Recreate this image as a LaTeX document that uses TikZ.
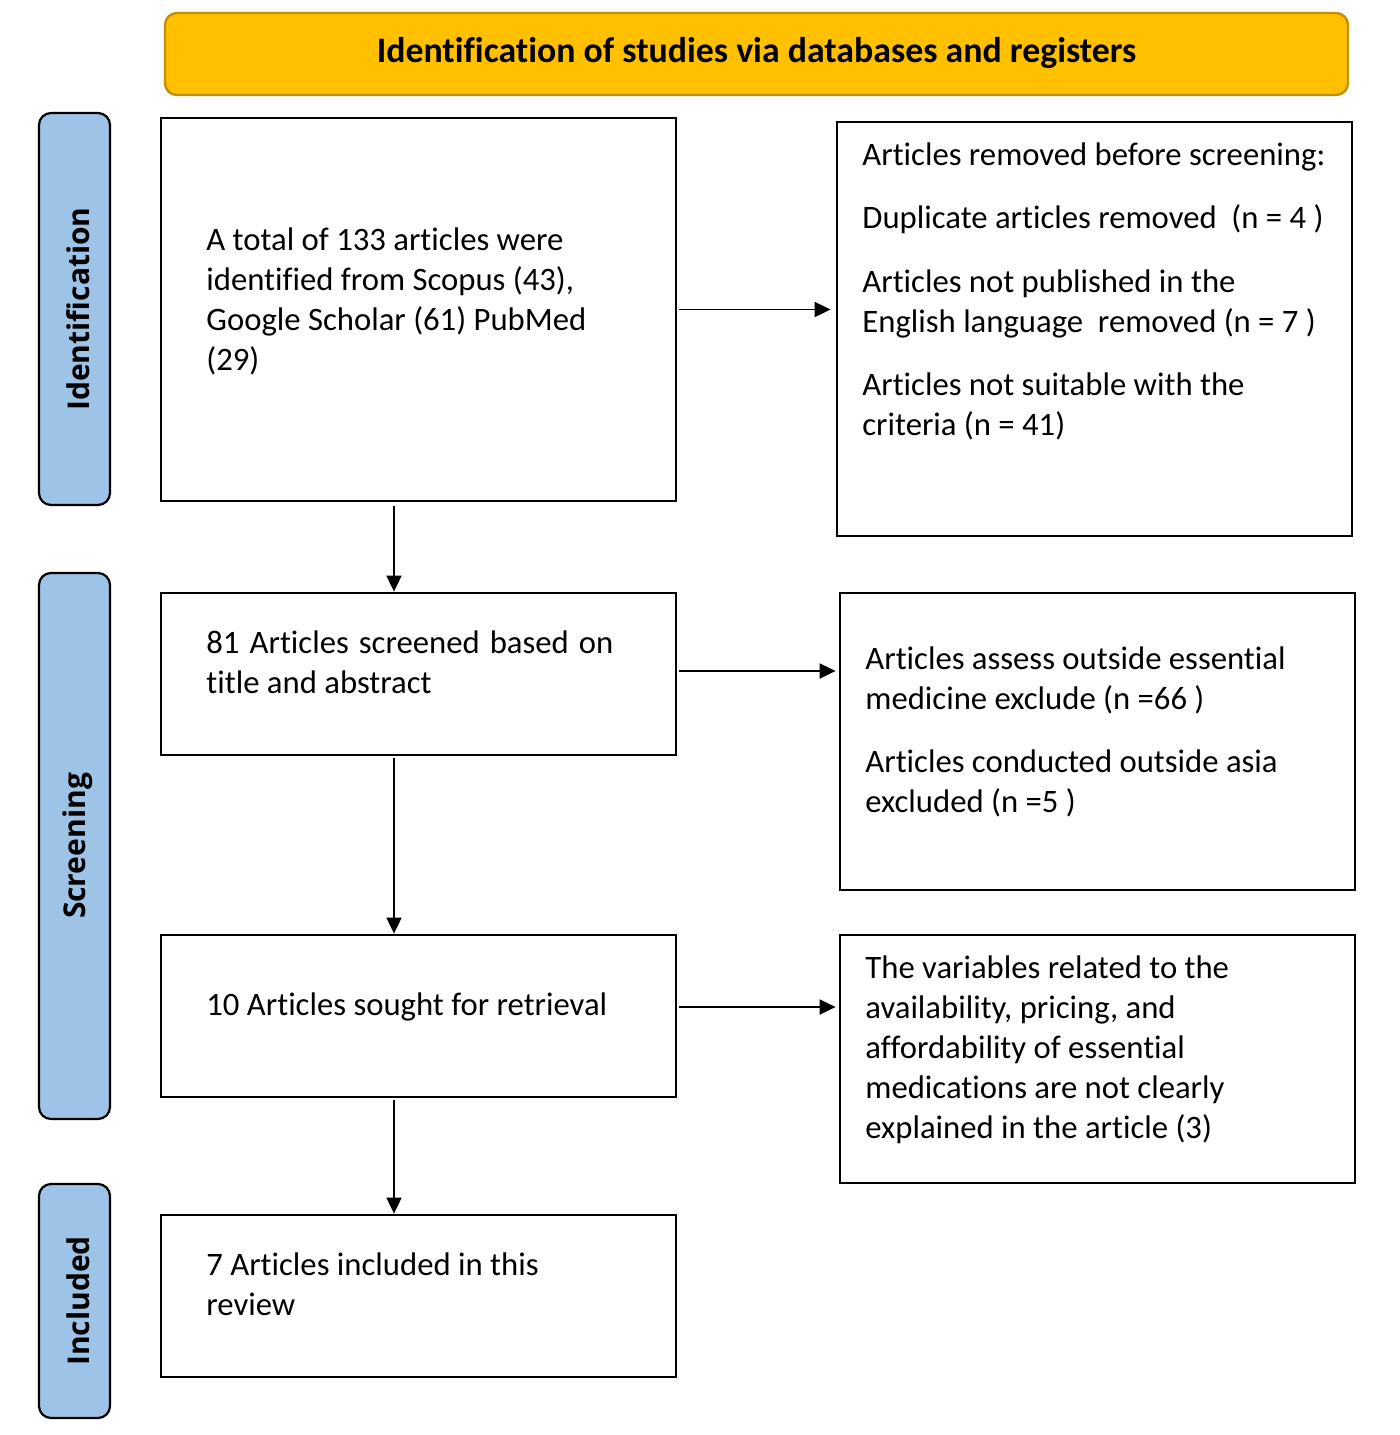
\documentclass[tikz,border=0pt]{standalone}
\usepackage{fontspec}
\setmainfont[RawFeature={-liga;-clig;-calt;-dlig}]{Carlito}
\newfontfamily\sidefont{Open Sans}
\usetikzlibrary{arrows.meta}
\definecolor{gold}{HTML}{FFC000}
\definecolor{golddark}{HTML}{BF9000}
\definecolor{sideblue}{HTML}{9DC3E6}
\begin{document}
\begin{tikzpicture}[x=0.5pt,y=-0.5pt,
  box/.style={draw=black, line width=1.4pt, rectangle, inner sep=0pt, minimum width=257.5pt},
  side/.style={draw=black, line width=1.1pt, fill=sideblue, rounded corners=6pt, inner sep=0pt, minimum width=35.5pt},
  sidelabel/.style={rotate=90, font=\sidefont\bfseries\fontsize{15}{18}\selectfont, inner sep=0pt},
  txt/.style={anchor=base west, inner sep=0pt, font=\fontsize{16.35}{20}\selectfont},
  arr/.style={line width=0.9pt, -{Triangle[length=8pt,width=7.5pt]}}
]
\useasboundingbox (0,0) rectangle (1400,1435);
% title
\node[draw=golddark, line width=1.2pt, fill=gold, rounded corners=6pt, minimum width=591.5pt, minimum height=41pt, inner sep=0pt] (title) at (756.5,54) {};
\node[inner sep=0pt, font=\bfseries\fontsize{17.9}{21}\selectfont] (titletxt) at (756.5,53) {Identification of studies via databases and registers};
% side bars
\node[side, minimum height=196pt] (s1) at (74.5,309) {};
\node[side, minimum height=273pt] (s2) at (74.5,846) {};
\node[side, minimum height=117pt] (s3) at (74.5,1301) {};
\node[sidelabel] (l1) at (78,309) {Identification};
\node[sidelabel] (l2) at (78,846) {Screening};
\node[sidelabel] (l3) at (78,1301) {Included};
% boxes
\node[box, minimum height=191.5pt] (b1) at (418.5,309.5) {};
\node[box, minimum height=207pt] (r1) at (1094.5,329) {};
\node[box, minimum height=81pt] (b2) at (418.5,674) {};
\node[box, minimum height=148.5pt] (r2) at (1097.5,741.5) {};
\node[box, minimum height=81pt] (b3) at (418.5,1016) {};
\node[box, minimum height=124pt] (r3) at (1097.5,1059) {};
\node[box, minimum height=81pt] (b4) at (418.5,1296) {};
% texts
\node[txt] (t1) at (206,250) {\parbox[t]{240pt}{\raggedright A total of 133 articles were\\identified from Scopus (43),\\Google Scholar (61) PubMed\\(29)}};
\node[txt] (tr1) at (862,165) {\parbox[t]{250pt}{\raggedright Articles removed before screening:\\[11.75pt]Duplicate articles removed\ \ (n = 4 )\\[11.75pt]Articles not published in the\\English language\ \ removed (n = 7 )\\[11.75pt]Articles not suitable with the\\criteria (n = 41)}};
\node[txt] (t2) at (206,653) {\parbox[t]{203.5pt}{81 Articles screened based on\linebreak title and abstract}};
\node[txt] (tr2) at (865,669) {\parbox[t]{250pt}{\raggedright Articles assess outside essential\\medicine exclude (n =66 )\\[11.75pt]Articles conducted outside asia\\excluded (n =5 )}};
\node[txt] (t3) at (206,1015) {\parbox[t]{240pt}{\raggedright 10 Articles sought for retrieval}};
\node[txt] (tr3) at (865,978) {\parbox[t]{250pt}{\raggedright The variables related to the\\availability, pricing, and\\affordability of essential\\medications are not clearly\\explained in the article (3)}};
\node[txt] (t4) at (206,1275) {\parbox[t]{240pt}{\raggedright 7 Articles included in this\\review}};
% arrows
\draw[arr, shorten <=1pt, shorten >=2.5pt] (b1.east) -- (b1.east -| r1.west);
\draw[arr, shorten <=1pt, shorten >=1.5pt] ([yshift=1.5pt]b2.east) -- ([yshift=1.5pt]b2.east -| r2.west);
\draw[arr, shorten <=1pt, shorten >=1.5pt] ([yshift=4.5pt]b3.east) -- ([yshift=4.5pt]b3.east -| r3.west);
\draw[arr, shorten <=2pt] ([xshift=-12.25pt]b1.south) -- ([xshift=-12.25pt]b2.north);
\draw[arr, shorten <=1pt] ([xshift=-12.25pt]b2.south) -- ([xshift=-12.25pt]b3.north);
\draw[arr, shorten <=1pt] ([xshift=-12.25pt]b3.south) -- ([xshift=-12.25pt]b4.north);
\end{tikzpicture}
\end{document}
